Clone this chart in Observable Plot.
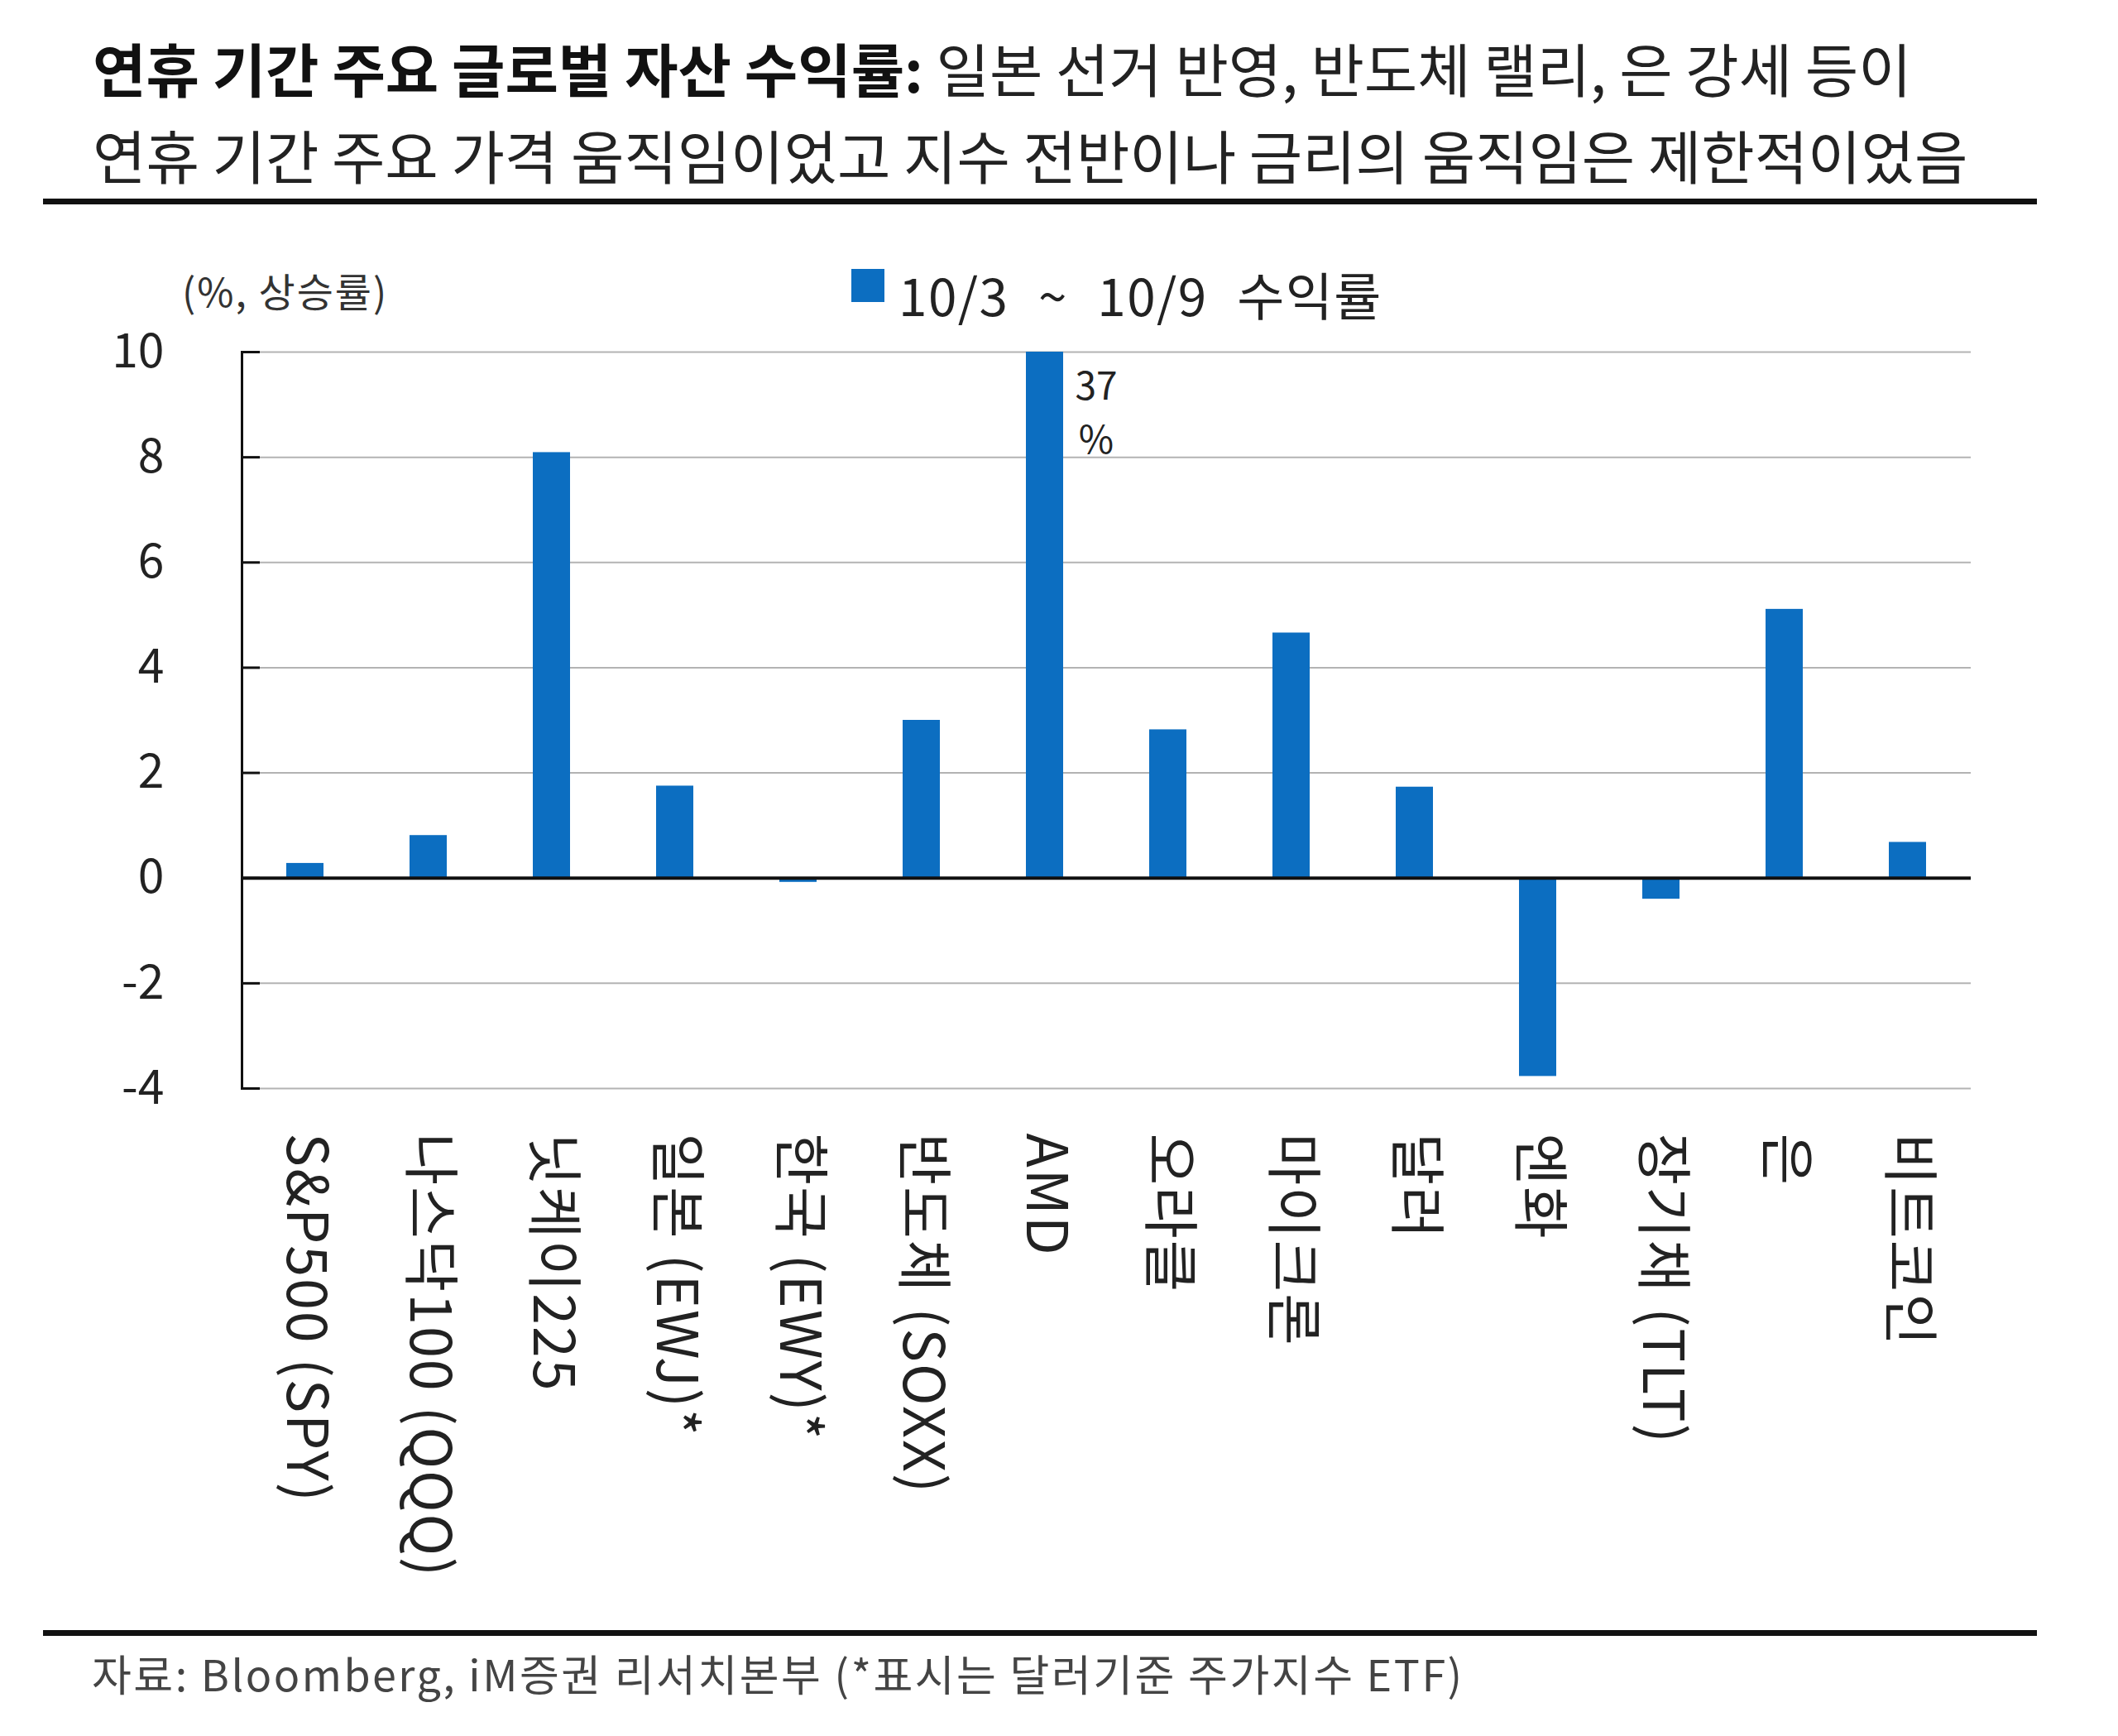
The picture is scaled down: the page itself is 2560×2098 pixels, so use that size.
<!DOCTYPE html>
<html>
<head>
<meta charset="utf-8">
<script src="https://cdn.jsdelivr.net/npm/d3@7"></script>
<script src="https://cdn.jsdelivr.net/npm/@observablehq/plot@0.6"></script>
<style>
  html, body { margin: 0; padding: 0; background: #fff; }
  #page { position: relative; width: 2560px; height: 2098px; background: #fff; overflow: hidden;
          font-family: "Noto Sans CJK KR", "Noto Sans", sans-serif; color: #222; }
  .abs { position: absolute; white-space: nowrap; line-height: 1; }
  .rule { position: absolute; background: #111; }
  #plot { position: absolute; left: 0; top: 400px; }
  .retplot g[aria-label="x-axis tick label"] text { letter-spacing: 2px; }
</style>
</head>
<body>
<div id="page">
  <div class="abs" id="title1" style="left:112px; top:47px; font-size:70px;"><span style="font-weight:700; color:#111;">연휴 기간 주요 글로벌 자산 수익률:</span> 일본 선거 반영, 반도체 랠리, 은 강세 등이</div>
  <div class="abs" id="title2" style="left:112px; top:152px; font-size:70px;">연휴 기간 주요 가격 움직임이었고 지수 전반이나 금리의 움직임은 제한적이었음</div>
  <div class="rule" style="left:52px; top:240px; width:2410px; height:7px;"></div>
  <div class="abs" id="unit" style="left:220px; top:326px; font-size:48px; letter-spacing:2px; color:#333;">(%, 상승률)</div>
  <div id="legendSwatch" style="position:absolute; left:1029px; top:325px; width:40px; height:40px;"></div>
  <div class="abs" id="legendText" style="left:1086px; top:324px; font-size:62px; letter-spacing:1.5px; word-spacing:20px; color:#222;"></div>
  <div id="plot"></div>
  <div class="rule" style="left:52px; top:1970px; width:2410px; height:7px;"></div>
  <div class="abs" id="caption" style="left:111px; top:1996px; font-size:52px; letter-spacing:2.5px; color:#444;">자료: Bloomberg, iM증권 리서치본부 (*표시는 달러기준 주가지수 ETF)</div>
</div>
<script>
// ---- data ----
const categories = ["S&P500 (SPY)", "나스닥100 (QQQ)", "닛케이225", "일본 (EWJ)*", "한국 (EWY)*", "반도체 (SOXX)", "AMD", "오라클", "마이크론", "달러", "엔화", "장기채 (TLT)", "은", "비트코인"];
const returns = [0.28, 0.81, 8.09, 1.75, -0.08, 3.0, 37, 2.82, 4.66, 1.73, -3.77, -0.40, 5.11, 0.68];
const yTicks = [-4, -2, 0, 2, 4, 6, 8, 10];
const yDomain = [-4, 10];
const seriesName = "10/3 ~ 10/9 수익률";
const annotated = ["AMD"];

const barColor = "#0c6ec1";
const rows = categories.map((c, i) => ({category: c, value: returns[i]}));
const labelRows = rows.filter(d => annotated.includes(d.category));

document.getElementById("legendSwatch").style.background = barColor;
document.getElementById("legendText").textContent = seriesName;

const frameW = 2382 - 292;

const chart = Plot.plot({
  className: "retplot",
  width: 2560,
  height: 1560,
  marginLeft: 292,
  marginRight: 178,
  marginTop: 25,
  marginBottom: 645,
  style: {fontFamily: "'Noto Sans CJK KR', 'Noto Sans', sans-serif", background: "transparent", color: "#222", overflow: "visible"},
  x: {type: "band", domain: categories, paddingInner: 0.7, paddingOuter: 0.35, label: null},
  y: {domain: yDomain, clamp: true, label: null},
  marks: [
    Plot.ruleY(yTicks, {stroke: "#b3b3b3", strokeWidth: 2}),
    Plot.barY(rows, {x: "category", y: "value", fill: barColor}),
    Plot.ruleY([0], {stroke: "#111", strokeWidth: 4}),
    Plot.ruleY(yTicks, {stroke: "#111", strokeWidth: 3, insetRight: frameW - 22}),
    Plot.frame({anchor: "left", stroke: "#111", strokeWidth: 3}),
    Plot.axisY({ticks: yTicks, tickSize: 0, tickPadding: 94, fontSize: 57, tickFormat: d => String(d), label: null}),
    Plot.axisX({tickSize: 0, tickPadding: 54, tickRotate: 90, fontSize: 68, label: null}),
    Plot.text(labelRows, {x: "category", y: "value", text: d => `${d.value}\n%`, dx: 62, dy: 12, lineAnchor: "top", textAnchor: "middle", fontSize: 46, lineHeight: 1.4, fill: "#222"})
  ]
});
document.getElementById("plot").appendChild(chart);
</script>
</body>
</html>
